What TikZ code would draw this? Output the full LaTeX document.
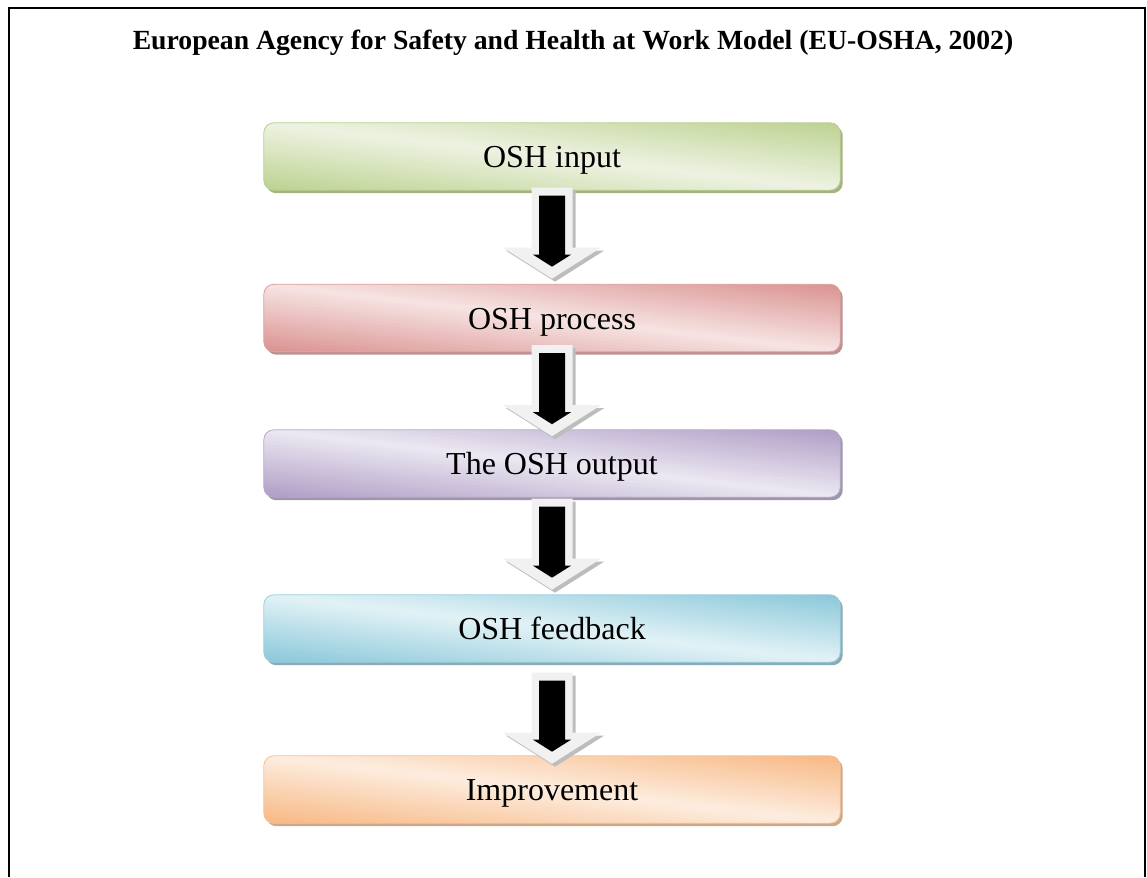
\documentclass[tikz,border=0pt]{standalone}
\usepackage{fontspec}
\setmainfont{Liberation Serif}
\usetikzlibrary{calc,backgrounds}
\definecolor{gD}{HTML}{BDD291}\definecolor{gL}{HTML}{EEF3E2}\definecolor{gB}{HTML}{B9CF91}\definecolor{gS}{HTML}{A3B385}
\definecolor{rD}{HTML}{DA9290}\definecolor{rL}{HTML}{F6E4E3}\definecolor{rB}{HTML}{DCA09E}\definecolor{rS}{HTML}{BC9391}
\definecolor{pD}{HTML}{AF9DC5}\definecolor{pL}{HTML}{ECE8F2}\definecolor{pB}{HTML}{B8A9CB}\definecolor{pS}{HTML}{A096AC}
\definecolor{cD}{HTML}{8AC8DA}\definecolor{cL}{HTML}{E2F2F6}\definecolor{cB}{HTML}{9DD0DF}\definecolor{cS}{HTML}{8AAAB4}
\definecolor{oD}{HTML}{F8B884}\definecolor{oL}{HTML}{FDEDDF}\definecolor{oB}{HTML}{F7C39A}\definecolor{oS}{HTML}{CFA88A}
\definecolor{arrF}{HTML}{F1F1F1}\definecolor{arrS}{HTML}{BDBDBD}
\tikzset{
  box/.style={minimum width=576pt, minimum height=67pt,
    inner sep=0pt, text height=25pt, text depth=3pt,
    font=\fontsize{32}{38}\selectfont},
  boxedge/.style={rounded corners=10pt, line width=0.8pt},
  frame/.style={line width=2pt, draw=black},
}
% #1 node, #2 dark, #3 light, #4 border, #5 shadow
\newcommand{\gradbox}[5]{%
  \begin{pgfonlayer}{background}
    \fill[#5, rounded corners=10pt] ($(#1.south west)+(2.5,3)$) rectangle ($(#1.north east)+(2.5,3)$);
    \begin{scope}
      \clip[rounded corners=10pt] (#1.south west) rectangle (#1.north east);
      \fill[#3] (#1.south west) rectangle (#1.north east);
      \begin{scope}[shift={(#1.center)}, x=288pt, y=33.5pt]
        \foreach \i in {0,...,39}{
          \pgfmathsetmacro\ua{-1+\i*0.05}
          \pgfmathsetmacro\ub{\ua+0.06}
          \pgfmathsetmacro\mixp{100*abs(\ua+0.025)}
          \fill[#2!\mixp!#3] ({2*\ua+3},-3) -- ({2*\ua-3},3) -- ({2*\ub-3},3) -- ({2*\ub+3},-3) -- cycle;
        }
      \end{scope}
    \end{scope}
    \draw[#4, boxedge] (#1.south west) rectangle (#1.north east);
  \end{pgfonlayer}}
\newcommand{\blkarrow}[2]{%
  \begin{scope}[shift={($(#1)+(0,#2)$)}]
    \fill[arrS] (-17.5,3) -- (23.5,3) -- (23.5,63) -- (52,63) -- (3,94) -- (-46,63) -- (-17.5,63) -- cycle;
    \fill[arrF] (-20.5,0) -- (20.5,0) -- (20.5,60) -- (49,60) -- (0,91) -- (-49,60) -- (-20.5,60) -- cycle;
    \fill[black] (-13,8) -- (13,8) -- (13,67) -- (19,67) -- (0,79) -- (-19,67) -- (-13,67) -- cycle;
  \end{scope}}
\begin{document}
\begin{tikzpicture}[x=1pt,y=-1pt]
\useasboundingbox (0,0) rectangle (1147,877);
\begin{pgfonlayer}{background}
  \fill[white] (0,0) rectangle (1147,877);
\end{pgfonlayer}
\coordinate (fbl) at (9,877);
\coordinate (ftl) at (9,8);
\coordinate (ftr) at (1145,8);
\coordinate (fbr) at (1145,877);
\draw[frame] (fbl) -- (ftl) -- (ftr) -- (fbr);
\node[font=\fontsize{27.7}{33}\selectfont\bfseries] (title) at (573,43) {European Agency for Safety and Health at Work Model (EU-OSHA, 2002)};
\node[box] (b1) at (552,156.5) {OSH input};
\node[box] (b2) at (552,318) {OSH process};
\node[box] (b3) at (552,463.5) {The OSH output};
\node[box] (b4) at (552,628.5) {OSH feedback};
\node[box] (b5) at (552,789.5) {Improvement};
\gradbox{b1}{gD}{gL}{gB}{gS}
\gradbox{b2}{rD}{rL}{rB}{rS}
\gradbox{b3}{pD}{pL}{pB}{pS}
\gradbox{b4}{cD}{cL}{cB}{cS}
\gradbox{b5}{oD}{oL}{oB}{oS}
\blkarrow{b1.south}{-2.5}
\blkarrow{b2.south}{-6.5}
\blkarrow{b3.south}{1.5}
\blkarrow{b4.south}{10.5}
\end{tikzpicture}
\end{document}
